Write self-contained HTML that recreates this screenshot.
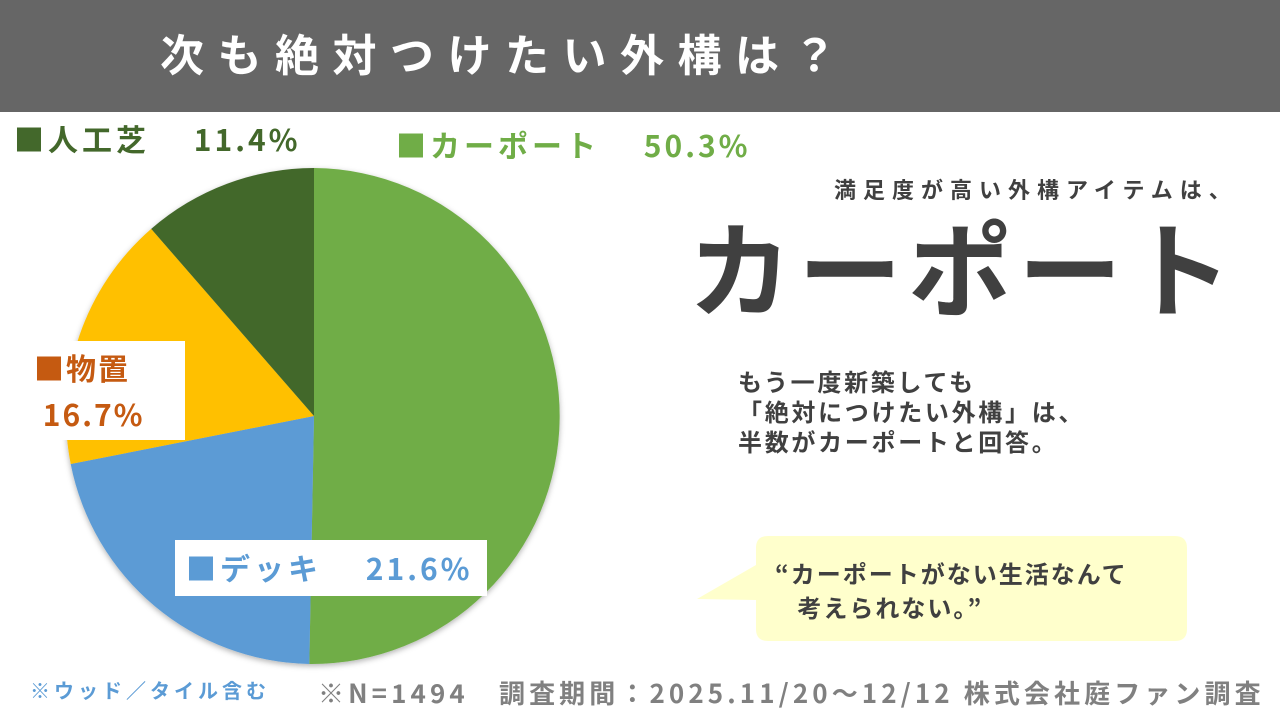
<!DOCTYPE html>
<html><head><meta charset="utf-8"><style>
body{margin:0;width:1280px;height:720px;background:#fff;position:relative;overflow:hidden;font-family:"Noto Sans CJK JP","Liberation Sans",sans-serif;font-weight:bold}
.a{position:absolute;white-space:nowrap}
</style></head><body>
<div class="a" style="left:0;top:0;width:1280px;height:112px;background:#666"></div>
<div class="a" style="left:160px;top:22px;font-size:44px;color:#fff;letter-spacing:13.5px;line-height:60px">次も絶対つけたい外構は？</div>
<svg class="a" style="left:0;top:0" width="1280" height="720">
<defs><filter id="s"><feDropShadow dx="0" dy="2" stdDeviation="3" flood-opacity="0.3"/></filter></defs>
<g filter="url(#s)">
<path d="M314,416 L314,168 A248,248 0 0 1 309.3,664 Z" fill="#70AD47"/>
<path d="M314,416 L309.3,664 A248,248 0 0 1 70.7,464 Z" fill="#5B9BD5"/>
<path d="M314,416 L70.7,464 A248,248 0 0 1 151.2,228.9 Z" fill="#FFC000"/>
<path d="M314,416 L151.2,228.9 A248,248 0 0 1 314,168 Z" fill="#43682B"/>
</g>
<path d="M756,548 Q756,536 768,536 L1175,536 Q1187,536 1187,548 L1187,629 Q1187,641 1175,641 L768,641 Q756,641 756,629 L756,600 L697,599 L756,565 Z" fill="#FFFFCC"/>
</svg>
<div class="a" style="left:14px;top:116px;font-size:30px;color:#43682B;line-height:44px;letter-spacing:4px">■人工芝　<span style="letter-spacing:3px">&nbsp;11.4%</span></div>
<div class="a" style="left:396px;top:122px;font-size:30px;color:#70AD47;line-height:44px;letter-spacing:4px">■カーポート　<span style="letter-spacing:3px">&nbsp;50.3%</span></div>
<div class="a" style="left:28px;top:341px;width:157px;height:99px;background:#fff"></div>
<div class="a" style="left:34px;top:344px;font-size:30px;color:#C55A11;line-height:46px;letter-spacing:2px">■物置<br>&nbsp;16.7%</div>
<div class="a" style="left:175px;top:540px;width:312px;height:56px;background:#fff"></div>
<div class="a" style="left:186px;top:545px;font-size:30px;color:#5B9BD5;line-height:44px;letter-spacing:4px">■デッキ　<span style="letter-spacing:3px">&nbsp;21.6%</span></div>
<div class="a" style="left:834px;top:172px;font-size:22px;color:#404040;letter-spacing:7px;line-height:34px">満足度が高い外構アイテムは、</div>
<div class="a" style="left:688px;top:189px;font-size:104px;color:#404040;line-height:150px;letter-spacing:6px">カーポート</div>
<div class="a" style="left:738px;top:366px;font-size:24px;color:#404040;line-height:30px;letter-spacing:2.7px">もう一度新築しても<br>「絶対につけたい外構」は、<br>半数がカーポートと回答。</div>
<div class="a" style="left:775px;top:556px;font-size:24px;color:#404040;line-height:34px;letter-spacing:2px">“カーポートがない生活なんて<br>&nbsp;&nbsp;&nbsp;考えられない。”</div>
<div class="a" style="left:30px;top:675px;font-size:20px;color:#5B9BD5;line-height:30px;letter-spacing:4px">※ウッド／タイル含む</div>
<div class="a" style="left:318px;top:673px;font-size:26px;color:#808080;line-height:40px;letter-spacing:4.1px">※N=1494　調査期間：2025.11/20～12/12 株式会社庭ファン調査</div>
</body></html>
